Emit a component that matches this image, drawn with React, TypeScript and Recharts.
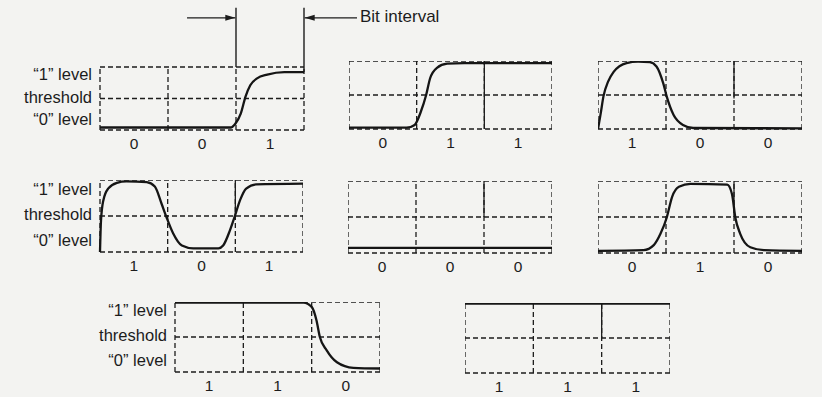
import React from 'react';
import { LineChart, Line, XAxis, YAxis, ReferenceLine } from 'recharts';

// waveform samples: t in bit periods (0..3), v relative to the box (0 = bottom, 1 = top)
const wave001 = [
  { t: 0, v: 0.04 }, { t: 1.92, v: 0.04 }, { t: 1.99, v: 0.1 }, { t: 2.07, v: 0.26 },
  { t: 2.14, v: 0.53 }, { t: 2.21, v: 0.71 }, { t: 2.31, v: 0.82 }, { t: 2.46, v: 0.88 },
  { t: 2.71, v: 0.92 }, { t: 3, v: 0.92 },
];
const wave011 = [
  { t: 0, v: 0.02 }, { t: 0.85, v: 0.02 }, { t: 0.97, v: 0.06 }, { t: 1.06, v: 0.25 },
  { t: 1.14, v: 0.5 }, { t: 1.2, v: 0.75 }, { t: 1.3, v: 0.9 }, { t: 1.45, v: 0.96 },
  { t: 1.7, v: 0.97 }, { t: 3, v: 0.97 },
];
const wave100 = [
  { t: 0, v: 0 }, { t: 0.04, v: 0.23 }, { t: 0.08, v: 0.48 }, { t: 0.15, v: 0.7 },
  { t: 0.23, v: 0.84 }, { t: 0.42, v: 0.97 }, { t: 0.59, v: 0.99 }, { t: 0.76, v: 0.985 },
  { t: 0.86, v: 0.92 }, { t: 0.96, v: 0.67 }, { t: 1.01, v: 0.48 }, { t: 1.11, v: 0.21 },
  { t: 1.25, v: 0.06 }, { t: 1.4, v: 0.015 }, { t: 3, v: 0.01 },
];
const wave101 = [
  { t: 0, v: 0 }, { t: 0.015, v: 0.44 }, { t: 0.05, v: 0.72 }, { t: 0.12, v: 0.88 },
  { t: 0.25, v: 0.96 }, { t: 0.39, v: 0.98 }, { t: 0.69, v: 0.97 }, { t: 0.81, v: 0.91 },
  { t: 0.91, v: 0.67 }, { t: 0.98, v: 0.49 }, { t: 1.08, v: 0.26 }, { t: 1.21, v: 0.09 },
  { t: 1.38, v: 0.05 }, { t: 1.75, v: 0.05 }, { t: 1.82, v: 0.09 }, { t: 1.92, v: 0.3 },
  { t: 1.99, v: 0.49 }, { t: 2.07, v: 0.72 }, { t: 2.16, v: 0.88 }, { t: 2.31, v: 0.94 },
  { t: 3, v: 0.95 },
];
const wave000 = [{ t: 0, v: 0.07 }, { t: 3, v: 0.07 }];
const wave010 = [
  { t: 0, v: 0.03 }, { t: 0.67, v: 0.04 }, { t: 0.82, v: 0.11 }, { t: 0.92, v: 0.27 },
  { t: 1.01, v: 0.49 }, { t: 1.09, v: 0.78 }, { t: 1.19, v: 0.92 }, { t: 1.36, v: 0.96 },
  { t: 1.9, v: 0.95 }, { t: 1.97, v: 0.82 }, { t: 2.02, v: 0.49 }, { t: 2.09, v: 0.27 },
  { t: 2.24, v: 0.08 }, { t: 2.44, v: 0.04 }, { t: 3, v: 0.03 },
];
const wave110 = [
  { t: 0, v: 0.99 }, { t: 1.88, v: 0.99 }, { t: 2.0, v: 0.93 }, { t: 2.07, v: 0.74 },
  { t: 2.12, v: 0.5 }, { t: 2.22, v: 0.31 }, { t: 2.37, v: 0.14 }, { t: 2.61, v: 0.06 },
  { t: 3, v: 0.05 },
];
const wave111 = [{ t: 0, v: 0.99 }, { t: 3, v: 0.99 }];

const bitTicks = [0.5, 1.5, 2.5];
const levelTicks = [0.17, 0.52, 0.88];
const levelLabels = ['\u201C0\u201D level', 'threshold', '\u201C1\u201D level'];

const FONT = '"Liberation Sans", Arial, Helvetica, sans-serif';
const INK = '#1c1c1c';
const DASH = '5 3';

const Arrow = (p: any) => {
  const { x1, y1, x2, y2 } = p;
  const dir = Math.sign(x2 - x1);
  return (
    <g>
      <line x1={x1} y1={y1} x2={x2} y2={y2} stroke={INK} strokeWidth={1.3} />
      <polygon points={`${x2},${y2} ${x2 - dir * 10},${y2 - 3} ${x2 - dir * 10},${y2 + 3}`} fill={INK} />
    </g>
  );
};

interface PanelProps {
  left: number;
  top: number;
  boxW: number;
  boxH: number;
  data: { t: number; v: number }[];
  bits: string[];
  levels?: boolean;
  solidFrom?: number;
  xMax?: number;
  yMax?: number;
  marker?: boolean;
}

function Panel({ left, top, boxW, boxH, data, bits, levels, solidFrom, xMax = 3, yMax = 1, marker }: PanelProps) {
  const yAxisW = levels ? 100 : 0;
  const topPad = (yMax - 1) * boxH;
  const plotW = (boxW * xMax) / 3;
  const xAxisH = 26;
  return (
    <div style={{ position: 'absolute', left: left - yAxisW, top: top - topPad }}>
      <LineChart width={yAxisW + plotW} height={topPad + boxH + xAxisH} data={data} margin={{ top: 0, right: 0, bottom: 0, left: 0 }}>
        <XAxis
          type="number"
          dataKey="t"
          domain={[0, xMax]}
          ticks={bitTicks}
          interval={0}
          tickFormatter={(v: number) => bits[Math.floor(v)]}
          axisLine={false}
          tickLine={false}
          height={xAxisH}
          tick={{ fill: INK, fontSize: 15.5, fontFamily: FONT }}
        />
        <YAxis
          type="number"
          domain={[0, yMax]}
          hide={!levels}
          width={yAxisW}
          ticks={levelTicks}
          interval={0}
          tickFormatter={(v: number) => levelLabels[levelTicks.indexOf(v)]}
          axisLine={false}
          tickLine={false}
          tick={{ fill: INK, fontSize: 16.5, fontFamily: FONT }}
        />
        {[0, 0.5, 1].map((y) => (
          <ReferenceLine key={'h' + y} segment={[{ x: 0, y }, { x: 3, y }]} stroke={INK} strokeWidth={1.3} strokeDasharray={DASH} ifOverflow="visible" />
        ))}
        {[0, 1, 2, 3].map((x) => (
          <ReferenceLine key={'v' + x} segment={[{ x, y: 0 }, { x, y: 1 }]} stroke={INK} strokeWidth={1.3} strokeDasharray={DASH} ifOverflow="visible" />
        ))}
        {solidFrom !== undefined && (
          <ReferenceLine segment={[{ x: 2, y: solidFrom }, { x: 2, y: 1 }]} stroke={INK} strokeWidth={1.3} ifOverflow="visible" />
        )}
        {marker && <ReferenceLine segment={[{ x: 2, y: 1 }, { x: 2, y: 1.94 }]} stroke={INK} strokeWidth={1.4} ifOverflow="visible" />}
        {marker && <ReferenceLine segment={[{ x: 3, y: 0.92 }, { x: 3, y: 1.94 }]} stroke={INK} strokeWidth={1.4} ifOverflow="visible" />}
        {marker && <ReferenceLine segment={[{ x: 1.28, y: 1.78 }, { x: 1.99, y: 1.78 }]} shape={Arrow} ifOverflow="visible" />}
        {marker && <ReferenceLine segment={[{ x: 3.78, y: 1.78 }, { x: 3.01, y: 1.78 }]} shape={Arrow} ifOverflow="visible" />}
        <Line type="monotone" dataKey="v" stroke="#151515" strokeWidth={2.3} dot={false} isAnimationActive={false} />
      </LineChart>
    </div>
  );
}

export default function App() {
  return (
    <div style={{ position: 'fixed', left: 0, top: 0, width: 822, height: 397, overflow: 'hidden', background: '#f3f3f1', fontFamily: FONT }}>
      <Panel left={100} top={67} boxW={204} boxH={63} data={wave001} bits={['0', '0', '1']} levels xMax={4} yMax={2} marker />
      <div style={{ position: 'absolute', left: 360, top: 7, fontSize: 17, color: INK, whiteSpace: 'nowrap' }}>Bit interval</div>
      <Panel left={349} top={61} boxW={203} boxH={68} data={wave011} bits={['0', '1', '1']} solidFrom={0} />
      <Panel left={598} top={61} boxW={204} boxH={68} data={wave100} bits={['1', '0', '0']} solidFrom={0.45} />
      <Panel left={100} top={180} boxW={203} boxH={72} data={wave101} bits={['1', '0', '1']} levels solidFrom={0.5} />
      <Panel left={348} top={181} boxW={204} boxH={72} data={wave000} bits={['0', '0', '0']} solidFrom={0.5} />
      <Panel left={598} top={181} boxW={204} boxH={72} data={wave010} bits={['0', '1', '0']} solidFrom={0.5} />
      <Panel left={175} top={302} boxW={205} boxH={70} data={wave110} bits={['1', '1', '0']} levels />
      <Panel left={465} top={303} boxW={205} boxH={70} data={wave111} bits={['1', '1', '1']} solidFrom={0.5} />
    </div>
  );
}
